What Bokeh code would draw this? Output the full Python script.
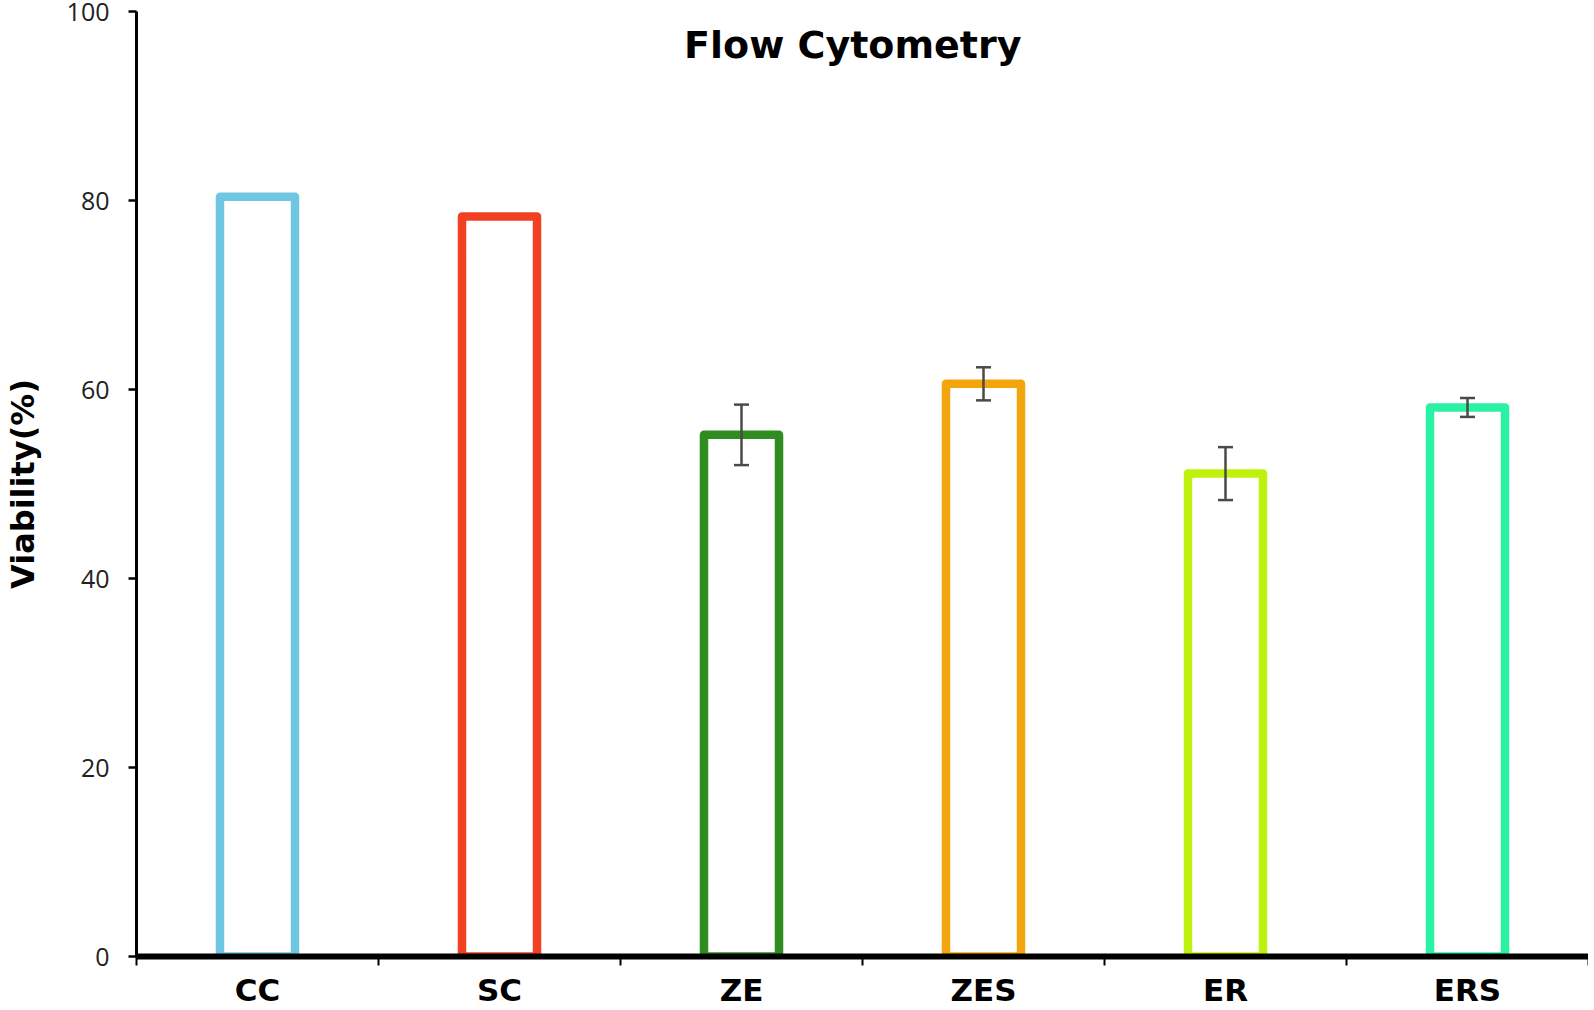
from bokeh.plotting import figure
from bokeh.models import (Range1d, LinearAxis, FixedTicker, ColumnDataSource,
                          Whisker, Label)
from bokeh.embed import file_html
from bokeh.resources import INLINE

# ---- data ----
categories = ["CC", "SC", "ZE", "ZES", "ER", "ERS"]
viability = [80.4, 78.3, 55.2, 60.6, 51.1, 58.1]
errors = [0.0, 0.0, 3.2, 1.75, 2.8, 1.0]
colors = ["#6EC6E3", "#F24122", "#2F8C1F", "#F2A50C", "#BEF20C", "#2AF2A2"]
y_ticks = [0, 20, 40, 60, 80, 100]
title_text = "Flow Cytometry"
y_label = "Viability(%)"

n = len(categories)
slot = [i + 0.5 for i in range(n)]          # centre of each category slot
bounds = list(range(n + 1))                 # slot boundaries

p = figure(width=1588, height=1010,
           x_range=Range1d(0, n), y_range=Range1d(0, 100),
           output_backend="svg", toolbar_location=None,
           x_axis_location=None,
           min_border_left=133, min_border_top=11,
           min_border_right=0, min_border_bottom=46)
p.outline_line_color = None
p.xgrid.visible = False
p.ygrid.visible = False
p.background_fill_color = "white"
p.border_fill_color = "white"

# bars
bar_src = ColumnDataSource(dict(x=slot, cat=categories, val=viability, color=colors))
p.vbar(x="x", top="val", width=0.31, bottom=0, source=bar_src,
       fill_color="white", line_color="color", line_width=8.5, line_join="round")

# error bars (only where an error exists)
wx = [x for x, e in zip(slot, errors) if e > 0]
wup = [v + e for v, e in zip(viability, errors) if e > 0]
wlo = [v - e for v, e in zip(viability, errors) if e > 0]
wsrc = ColumnDataSource(dict(x=wx, upper=wup, lower=wlo))
wh = Whisker(base="x", upper="upper", lower="lower", source=wsrc,
             line_color="#4a4a4a", line_width=2.5, level="overlay")
for head in (wh.upper_head, wh.lower_head):
    head.size = 15
    head.line_color = "#4a4a4a"
    head.line_width = 2.5
p.add_layout(wh)

# x axis: labels at category centres, ticks at category boundaries
xaxis = LinearAxis(ticker=FixedTicker(ticks=slot, minor_ticks=bounds),
                   major_label_overrides={x: name for x, name in zip(slot, categories)})
xaxis.axis_line_color = "black"
xaxis.axis_line_width = 6
xaxis.major_tick_line_color = None
xaxis.major_tick_out = 0
xaxis.major_tick_in = 0
xaxis.minor_tick_line_color = "black"
xaxis.minor_tick_line_width = 2
xaxis.minor_tick_out = 9
xaxis.minor_tick_in = 0
xaxis.major_label_standoff = 6
xaxis.major_label_text_font = "DejaVu Sans"
xaxis.major_label_text_font_style = "bold"
xaxis.major_label_text_font_size = "31px"
xaxis.major_label_text_color = "black"
p.add_layout(xaxis, "below")

# y axis
ya = p.yaxis[0]
ya.ticker = FixedTicker(ticks=y_ticks)
ya.axis_line_width = 3
ya.axis_line_color = "black"
ya.major_tick_line_color = "black"
ya.major_tick_line_width = 2.5
ya.major_tick_out = 8
ya.major_tick_in = 0
ya.minor_tick_line_color = None
ya.major_label_standoff = 19
ya.major_label_text_font = "Open Sans"
ya.major_label_text_font_size = "25px"
ya.major_label_text_color = "#222222"
ya.axis_label = y_label
ya.axis_label_text_font = "DejaVu Sans"
ya.axis_label_text_font_style = "bold"
ya.axis_label_text_font_size = "32px"
ya.axis_label_text_color = "black"
ya.axis_label_standoff = 22

# title inside plot area
p.add_layout(Label(x=2.96, y=96.5, text=title_text, text_font="DejaVu Sans",
                   text_font_style="bold", text_font_size="38px",
                   text_align="center", text_baseline="middle", text_color="black"))

open("out.html", "w").write(file_html(p, INLINE))
